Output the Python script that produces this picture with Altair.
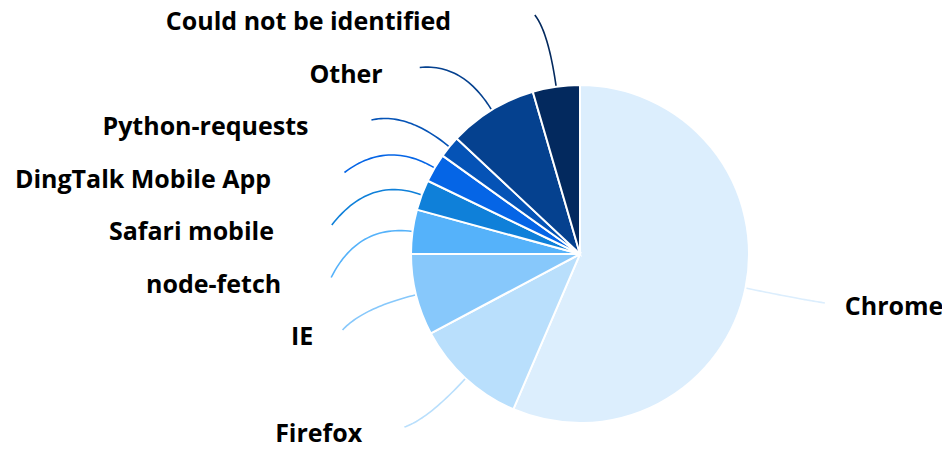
import math
import altair as alt
import pandas as pd

# ---- data ----
names = ["Chrome", "Firefox", "IE", "node-fetch", "Safari mobile",
         "DingTalk Mobile App", "Python-requests", "Other", "Could not be identified"]
shares = [56.4, 10.75, 7.8, 4.2, 2.9, 2.75, 2.1, 8.5, 4.5]
colors = ["#dceefd", "#b9dffc", "#87c8fb", "#55b2fa", "#0f80d9",
          "#0565e6", "#0553b6", "#05418f", "#03295e"]

# ---- layout constants (view coordinates) ----
W, H = 934, 434
CX, CY = 572, 246
R = 169
R_CTRL = R + 55
END_A, END_B = 250, 243   # ellipse on which connectors end
SLOT = 52.5
TOP, BOTTOM = 7, 419
FONT = 25
CHAR_W = 13

total = sum(shares)
rows = []
cum = 0.0
for i, (n, s) in enumerate(zip(names, shares)):
    mid = (cum + s / 2) / total * 2 * math.pi
    cum += s
    rows.append({"idx": i, "name": n, "share": s, "mid": mid,
                 "side": "left" if math.sin(mid) < 0 else "right",
                 "nat_y": CY - END_B * math.cos(mid)})


def distribute(items):
    items = sorted(items, key=lambda d: d["nat_y"])
    prev = None
    for d in items:
        y = max(d["nat_y"], TOP)
        if prev is not None:
            y = max(y, prev + SLOT)
        d["end_y"] = y
        prev = y
    nxt = None
    for d in reversed(items):
        y = min(d["end_y"], BOTTOM)
        if nxt is not None:
            y = min(y, nxt - SLOT)
        d["end_y"] = y
        nxt = y


distribute([d for d in rows if d["side"] == "left"])
distribute([d for d in rows if d["side"] == "right"])

line_rows, left_lab, right_lab = [], [], []
for d in rows:
    sgn = -1 if d["side"] == "left" else 1
    dy = d["end_y"] - CY
    ex = CX + sgn * END_A * math.sqrt(max(1 - (dy / END_B) ** 2, 0))
    ey = d["end_y"]
    p0 = (CX + R * math.sin(d["mid"]), CY - R * math.cos(d["mid"]))
    c = (CX + R_CTRL * math.sin(d["mid"]), CY - R_CTRL * math.cos(d["mid"]))
    for k in range(31):
        t = k / 30
        x = (1 - t) ** 2 * p0[0] + 2 * t * (1 - t) * c[0] + t ** 2 * ex
        y = (1 - t) ** 2 * p0[1] + 2 * t * (1 - t) * c[1] + t ** 2 * ey
        line_rows.append({"name": d["name"], "k": k, "x": x, "y": y})
    if d["side"] == "left":
        est_w = len(d["name"]) * CHAR_W
        left_lab.append({"name": d["name"], "x": ex - 24 - 0.2 * est_w, "y": ey + 7})
    else:
        right_lab.append({"name": d["name"], "x": ex + 20, "y": ey + 4})

pie_df = pd.DataFrame({"idx": list(range(len(names))), "name": names, "share": shares})
lines_df = pd.DataFrame(line_rows)
left_df = pd.DataFrame(left_lab)
right_df = pd.DataFrame(right_lab)

color_scale = alt.Scale(domain=names, range=colors)

pie = alt.Chart(pie_df).mark_arc(stroke="white", strokeWidth=2, radius=R).encode(
    theta=alt.Theta("share:Q", stack=True),
    color=alt.Color("name:N", scale=color_scale, legend=None),
    order=alt.Order("idx:Q"),
    x=alt.value(CX),
    y=alt.value(CY),
)

connectors = alt.Chart(lines_df).mark_line(strokeWidth=1.6).encode(
    x=alt.X("x:Q", scale=None, axis=None),
    y=alt.Y("y:Q", scale=None, axis=None),
    detail="name:N",
    order="k:Q",
    color=alt.Color("name:N", scale=color_scale, legend=None),
)

text_common = dict(fontSize=FONT, fontWeight="bold", font="Open Sans",
                   baseline="middle", color="#000000")

left_text = alt.Chart(left_df).mark_text(align="right", **text_common).encode(
    x=alt.X("x:Q", scale=None, axis=None),
    y=alt.Y("y:Q", scale=None, axis=None),
    text="name:N",
)
right_text = alt.Chart(right_df).mark_text(align="left", **text_common).encode(
    x=alt.X("x:Q", scale=None, axis=None),
    y=alt.Y("y:Q", scale=None, axis=None),
    text="name:N",
)

chart = alt.layer(connectors, pie, left_text, right_text).properties(
    width=W, height=H, padding=0,
    autosize=alt.AutoSizeParams(type="none"),
).configure_view(stroke=None)

chart.save("out.html", embed_options={"renderer": "svg", "actions": False})
